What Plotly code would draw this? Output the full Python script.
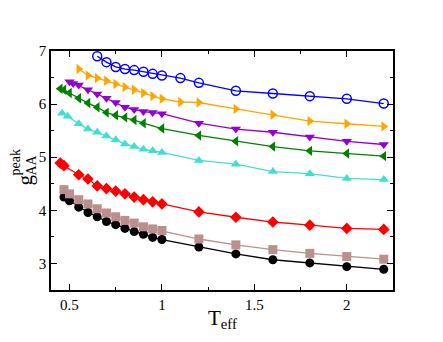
import plotly.graph_objects as go

# T_eff values per series
t_blue = [0.65, 0.7, 0.75, 0.8, 0.85, 0.9, 0.95, 1.0, 1.1, 1.2, 1.4, 1.6, 1.8, 2.0, 2.2]
g_blue = [6.90, 6.79, 6.70, 6.66, 6.64, 6.61, 6.57, 6.54, 6.49, 6.40, 6.25, 6.20, 6.15, 6.10, 6.01]

t_orange = [0.55, 0.6, 0.65, 0.7, 0.75, 0.8, 0.85, 0.9, 0.95, 1.0, 1.1, 1.2, 1.4, 1.6, 1.8, 2.0, 2.2]
g_orange = [6.66, 6.54, 6.49, 6.44, 6.38, 6.32, 6.27, 6.21, 6.15, 6.10, 6.04, 6.03, 5.91, 5.80, 5.68, 5.63, 5.58]

t_purple = [0.5, 0.52, 0.55, 0.6, 0.65, 0.7, 0.75, 0.8, 0.85, 0.9, 0.95, 1.0, 1.2, 1.4, 1.6, 1.8, 2.0, 2.2]
g_purple = [6.42, 6.39, 6.36, 6.27, 6.19, 6.11, 6.03, 5.94, 5.90, 5.86, 5.84, 5.82, 5.64, 5.53, 5.47, 5.38, 5.30, 5.24]

t_green = [0.45, 0.47, 0.5, 0.55, 0.6, 0.65, 0.7, 0.75, 0.8, 0.85, 0.9, 1.0, 1.2, 1.4, 1.6, 1.8, 2.0, 2.2]
g_green = [6.29, 6.27, 6.21, 6.11, 6.02, 5.94, 5.84, 5.79, 5.75, 5.70, 5.64, 5.54, 5.41, 5.30, 5.20, 5.12, 5.07, 5.02]

t_cyan = [0.46, 0.49, 0.55, 0.6, 0.65, 0.7, 0.75, 0.8, 0.85, 0.9, 0.95, 1.0, 1.2, 1.4, 1.6, 1.8, 2.0, 2.2]
g_cyan = [5.83, 5.77, 5.63, 5.53, 5.47, 5.40, 5.33, 5.25, 5.20, 5.15, 5.12, 5.09, 4.94, 4.87, 4.73, 4.69, 4.60, 4.58]

t_red = [0.45, 0.47, 0.55, 0.6, 0.65, 0.7, 0.75, 0.8, 0.85, 0.9, 0.95, 1.0, 1.2, 1.4, 1.6, 1.8, 2.0, 2.2]
g_red = [4.89, 4.84, 4.67, 4.59, 4.46, 4.41, 4.36, 4.31, 4.25, 4.20, 4.16, 4.12, 3.97, 3.87, 3.78, 3.72, 3.66, 3.64]

t_brown = [0.47, 0.5, 0.55, 0.6, 0.65, 0.7, 0.75, 0.8, 0.85, 0.9, 0.95, 1.0, 1.2, 1.4, 1.6, 1.8, 2.0, 2.2]
g_brown = [4.39, 4.31, 4.20, 4.12, 4.03, 3.95, 3.88, 3.81, 3.76, 3.69, 3.65, 3.62, 3.46, 3.35, 3.26, 3.19, 3.13, 3.08]

t_black = [0.47, 0.5, 0.55, 0.6, 0.65, 0.7, 0.75, 0.8, 0.85, 0.9, 0.95, 1.0, 1.2, 1.4, 1.6, 1.8, 2.0, 2.2]
g_black = [4.25, 4.18, 4.06, 3.96, 3.88, 3.79, 3.73, 3.66, 3.60, 3.55, 3.49, 3.45, 3.31, 3.18, 3.07, 3.01, 2.94, 2.89]

series = [
    (t_black, g_black, "#000000", "circle"),
    (t_brown, g_brown, "#bc8f8f", "square"),
    (t_red, g_red, "#ff0000", "diamond"),
    (t_cyan, g_cyan, "#40e0d0", "triangle-up"),
    (t_green, g_green, "#008000", "triangle-left"),
    (t_purple, g_purple, "#9400d3", "triangle-down"),
    (t_orange, g_orange, "#ffa500", "triangle-right"),
    (t_blue, g_blue, "#0000ff", "circle-open"),
]

fig = go.Figure()
for tx, gy, col, sym in series:
    fig.add_trace(go.Scatter(
        x=tx, y=gy, mode="lines+markers",
        line=dict(color=col, width=1.3),
        marker=dict(symbol=sym, size=9, color=col,
                    line=dict(color=col, width=1.5 if sym == "circle-open" else 0)),
        showlegend=False,
    ))

serif = "Liberation Serif, Times New Roman, serif"
axis_common = dict(
    showline=True, linecolor="black", linewidth=1.5, mirror="ticks",
    ticks="inside", ticklen=6, tickwidth=1.2, tickcolor="black",
    showgrid=False, zeroline=False,
    tickfont=dict(family=serif, size=15, color="black"),
)

# page body has an 8px margin, so the figure is a bit smaller than the window
fig.update_layout(
    width=427, height=326,
    margin=dict(l=43, r=42, t=43, b=44),
    paper_bgcolor="white", plot_bgcolor="white",
    xaxis=dict(range=[0.4, 2.25], tickvals=[0.5, 1, 1.5, 2],
               ticktext=["0.5", "1", "1.5", "2"],
               minor=dict(tickvals=[0.75, 1.25, 1.75], ticks="inside", ticklen=3,
                          tickcolor="black", tickwidth=1.2),
               **axis_common),
    yaxis=dict(range=[2.5, 7], tickvals=[3, 4, 5, 6, 7],
               minor=dict(tickvals=[3.5, 4.5, 5.5, 6.5], ticks="inside", ticklen=3,
                          tickcolor="black", tickwidth=1.2),
               **axis_common),
)

# axis titles
fig.add_annotation(xref="paper", yref="paper", x=0.5, y=0, yshift=-14, yanchor="top",
                   text="T<sub>eff</sub>", showarrow=False,
                   font=dict(family=serif, size=21, color="black"))
ytitle = [("g", -27, -10, 21), ("peak", -36, 8, 14), ("AA", -20, 5, 14)]
for txt, dx, dy, fs in ytitle:
    fig.add_annotation(xref="paper", yref="paper", x=0, y=0.5, xshift=dx, yshift=dy,
                       xanchor="center", yanchor="middle",
                       text=txt, textangle=-90, showarrow=False,
                       font=dict(family=serif, size=fs, color="black"))

fig.write_html("out.html")
